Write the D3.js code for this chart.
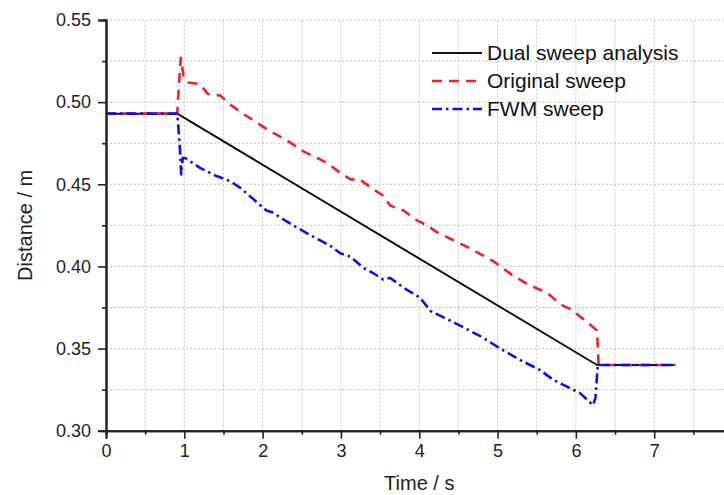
<!DOCTYPE html>
<html>
<head>
<meta charset="utf-8">
<script src="https://cdn.jsdelivr.net/npm/d3@7"></script>
<style>
  body { margin: 0; background: #fff; }
  svg { display: block; font-family: "Liberation Sans", Arial, sans-serif; }
</style>
</head>
<body>
<section></section>
<script>
// datos (tiempo en s, distancia en m)
var dualT = [0, 0.91, 6.27, 7.27]
var dualD = [0.493, 0.493, 0.340, 0.340]

var origT = [0, 0.91, 0.93, 0.955, 0.99, 1.05, 1.2, 1.3, 1.46, 1.6, 1.75, 1.88, 2.07, 2.3, 2.52, 2.7, 2.82, 2.99, 3.12, 3.24, 3.41, 3.54, 3.63, 3.80, 3.97, 4.10, 4.22, 4.39, 4.65, 4.95, 5.18, 5.39, 5.63, 5.80, 5.93, 6.12, 6.27, 6.29, 7.27]
var origD = [0.493, 0.493, 0.510, 0.527, 0.516, 0.512, 0.511, 0.505, 0.504, 0.498, 0.493, 0.489, 0.483, 0.477, 0.470, 0.466, 0.463, 0.457, 0.453, 0.453, 0.447, 0.443, 0.437, 0.434, 0.428, 0.425, 0.421, 0.417, 0.411, 0.403, 0.395, 0.389, 0.384, 0.377, 0.374, 0.367, 0.361, 0.340, 0.340]

var fwmT = [0, 0.91, 0.94, 0.96, 0.98, 1.01, 1.2, 1.41, 1.58, 1.71, 1.88, 2.05, 2.12, 2.22, 2.39, 2.61, 2.73, 2.88, 2.99, 3.12, 3.29, 3.41, 3.54, 3.63, 3.80, 4.01, 4.14, 4.31, 4.56, 4.80, 5.0, 5.29, 5.54, 5.71, 5.88, 6.05, 6.22, 6.25, 6.28, 7.27]
var fwmD = [0.493, 0.493, 0.475, 0.456, 0.466, 0.466, 0.460, 0.455, 0.452, 0.448, 0.441, 0.434, 0.433, 0.430, 0.425, 0.419, 0.416, 0.412, 0.408, 0.406, 0.399, 0.396, 0.392, 0.393, 0.387, 0.381, 0.373, 0.369, 0.363, 0.357, 0.351, 0.343, 0.337, 0.331, 0.327, 0.323, 0.3155, 0.320, 0.340, 0.340]

var xTicks = [0, 1, 2, 3, 4, 5, 6, 7]
var xMinor = [0.5, 1.5, 2.5, 3.5, 4.5, 5.5, 6.5, 7.5]
var yTicks = [0.30, 0.35, 0.40, 0.45, 0.50, 0.55]
var yMinor = [0.325, 0.375, 0.425, 0.475, 0.525]

var seriesNames = ["Dual sweep analysis", "Original sweep", "FWM sweep"]

var width = 724
var height = 495

var svg = d3.select("section")
    .append("svg")
    .attr("width", width)
    .attr("height", height)

var escalaX = d3.scaleLinear().domain([0, 8]).range([106, 732.5])
var escalaY = d3.scaleLinear().domain([0.30, 0.55]).range([430.7, 20])

// rejilla punteada
var grid = svg.append("g")
grid.selectAll(".gx")
    .data(xTicks.concat(xMinor).filter(function (d) { return d > 0 }))
    .enter().append("line")
    .attr("x1", function (d) { return escalaX(d) })
    .attr("x2", function (d) { return escalaX(d) })
    .attr("y1", escalaY(0.30))
    .attr("y2", escalaY(0.55))
    .attr("stroke", "#c4c4c4")
    .attr("stroke-width", 1)
    .attr("stroke-dasharray", "2,2")
grid.selectAll(".gy")
    .data(yTicks.concat(yMinor).filter(function (d) { return d > 0.30 }))
    .enter().append("line")
    .attr("x1", escalaX(0))
    .attr("x2", width)
    .attr("y1", function (d) { return escalaY(d) })
    .attr("y2", function (d) { return escalaY(d) })
    .attr("stroke", "#c4c4c4")
    .attr("stroke-width", 1)
    .attr("stroke-dasharray", "2,2")

// lineas
var linea = d3.line()
    .x(function (d) { return escalaX(d[0]) })
    .y(function (d) { return escalaY(d[1]) })

var series = [
    { t: dualT, d: dualD, color: "#111111", dash: null, w: 2 },
    { t: origT, d: origD, color: "#e8262b", dash: "10,7", w: 2.6 },
    { t: fwmT, d: fwmD, color: "#1010e0", dash: "10,4,2.5,4", w: 2.6 }
]

series.forEach(function (s) {
    svg.append("path")
        .datum(s.t.map(function (t, i) { return [t, s.d[i]] }))
        .attr("d", linea)
        .attr("fill", "none")
        .attr("stroke", s.color)
        .attr("stroke-width", s.w)
        .attr("stroke-dasharray", s.dash)
        .attr("stroke-linejoin", "round")
})

// ejes
var ejeX = d3.axisBottom(escalaX).tickValues(xTicks).tickSize(8).tickPadding(6).tickFormat(d3.format("d"))
var ejeXmin = d3.axisBottom(escalaX).tickValues(xMinor).tickSize(4).tickFormat("")
var ejeY = d3.axisLeft(escalaY).tickValues(yTicks).tickSize(8).tickPadding(7).tickFormat(d3.format(".2f"))
var ejeYmin = d3.axisLeft(escalaY).tickValues(yMinor).tickSize(4).tickFormat("")

function estilo(g) {
    g.select(".domain").attr("stroke", "#222").attr("stroke-width", 2)
    g.selectAll(".tick line").attr("stroke", "#222").attr("stroke-width", 1.6)
    g.selectAll(".tick text").attr("fill", "#222").style("font-size", "18px")
        .style("font-family", "'Liberation Sans', Arial, sans-serif")
}

svg.append("g").attr("transform", "translate(0," + escalaY(0.30) + ")").call(ejeX).call(estilo)
svg.append("g").attr("transform", "translate(0," + escalaY(0.30) + ")").call(ejeXmin).call(estilo)
svg.append("g").attr("transform", "translate(" + escalaX(0) + ",0)").call(ejeY).call(estilo)
svg.append("g").attr("transform", "translate(" + escalaX(0) + ",0)").call(ejeYmin).call(estilo)

// titulos de ejes
svg.append("text")
    .attr("x", (escalaX(0) + escalaX(8)) / 2)
    .attr("y", 490)
    .attr("text-anchor", "middle")
    .attr("fill", "#222")
    .style("font-size", "20px")
    .text("Time / s")

svg.append("text")
    .attr("transform", "translate(32," + ((escalaY(0.30) + escalaY(0.55)) / 2) + ") rotate(-90)")
    .attr("text-anchor", "middle")
    .attr("fill", "#222")
    .style("font-size", "20px")
    .text("Distance / m")

// leyenda
var leyenda = svg.append("g")
series.forEach(function (s, i) {
    var yy = 53 + i * 28
    leyenda.append("line")
        .attr("x1", 432).attr("x2", 482)
        .attr("y1", yy).attr("y2", yy)
        .attr("stroke", s.color)
        .attr("stroke-width", s.w)
        .attr("stroke-dasharray", s.dash)
    leyenda.append("text")
        .attr("x", 487)
        .attr("y", yy + 7)
        .attr("fill", "#111")
        .style("font-size", "21px")
        .text(seriesNames[i])
})
</script>
</body>
</html>
